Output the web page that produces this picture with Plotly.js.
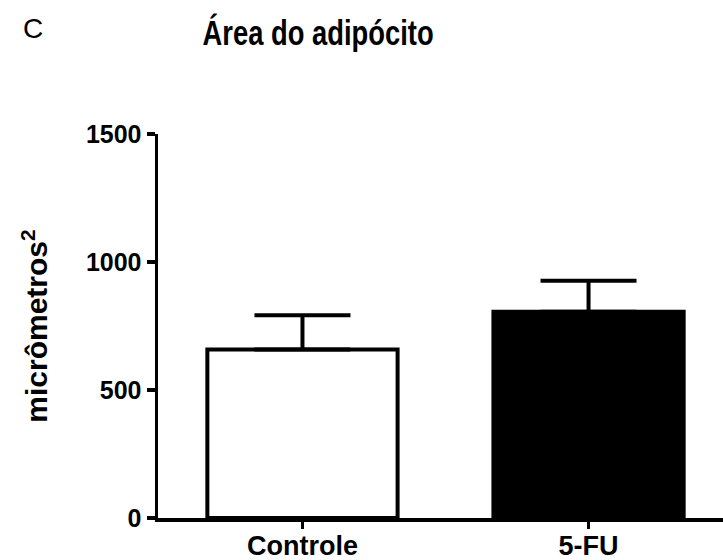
<!DOCTYPE html>
<html>
<head>
<meta charset="utf-8">
<script src="https://cdn.plot.ly/plotly-3.0.1.min.js"></script>
<style>html,body{margin:0;padding:0;background:#fff;}</style>
</head>
<body>
<div id="chart" style="width:723px;height:560px;"></div>
<script>
const categories = ["Controle", "5-FU"];
const means = [658, 806];
const sem = [134, 121];
const semMinus = [0, 0];
const fillColors = ["#ffffff", "#000000"];
const yTicks = [0, 500, 1000, 1500];
const yTickText = ["0", "500", "1000", "1500"];

const sans = '"Liberation Sans", Arial, sans-serif';

const trace = {
  type: "bar",
  x: [0, 1],
  y: means,
  width: 0.665,
  marker: { color: fillColors, line: { color: "#000", width: 4 } },
  error_y: {
    type: "data", symmetric: false, array: sem, arrayminus: semMinus,
    color: "#000", thickness: 4, width: 48, visible: true
  },
  hoverinfo: "skip"
};

const layout = {
  width: 723, height: 560,
  margin: { l: 158, r: 0, t: 134, b: 42 },
  paper_bgcolor: "#fff", plot_bgcolor: "#fff",
  showlegend: false,
  title: {
    text: "Área do adipócito",
    font: { family: sans, size: 36, color: "#000", weight: "bold" },
    xref: "container", yref: "container",
    x: 0.44, xanchor: "center", y: 0.942, yanchor: "middle"
  },
  xaxis: {
    range: [-0.505, 1.47],
    tickmode: "array", tickvals: [0, 1], ticktext: categories,
    showline: true, linecolor: "#000", linewidth: 3.5,
    ticks: "outside", ticklen: 7, tickwidth: 3, tickcolor: "#000",
    ticklabelstandoff: -6,
    showgrid: false, zeroline: false,
    tickfont: { family: sans, size: 27, color: "#000", weight: "bold" }
  },
  yaxis: {
    range: [0, 1500],
    tickmode: "array", tickvals: yTicks, ticktext: yTickText,
    showline: true, linecolor: "#000", linewidth: 3.5,
    ticks: "outside", ticklen: 8, tickwidth: 3.5, tickcolor: "#000",
    showgrid: false, zeroline: false,
    tickfont: { family: sans, size: 25, color: "#000", weight: "bold" },
    title: {
      text: "micrômetros<sup>2</sup>",
      font: { family: sans, size: 30, color: "#000", weight: "bold" },
      standoff: 30
    }
  },
  annotations: [{
    text: "C", xref: "paper", yref: "paper",
    x: -0.221, y: 1.276, xanchor: "center", yanchor: "middle",
    showarrow: false,
    font: { family: sans, size: 28, color: "#000" }
  }]
};

Plotly.newPlot("chart", [trace], layout, { displayModeBar: false, staticPlot: true }).then(function () {
  // The reference title is set in a condensed face: narrow it horizontally.
  const t = document.querySelector(".gtitle");
  if (t) {
    const cx = parseFloat(t.getAttribute("x")) || 318;
    const prev = t.getAttribute("transform") || "";
    t.setAttribute("transform", "translate(" + cx + ",0) scale(0.76,1) translate(" + (-cx) + ",0) " + prev);
  }
});
</script>
</body>
</html>
